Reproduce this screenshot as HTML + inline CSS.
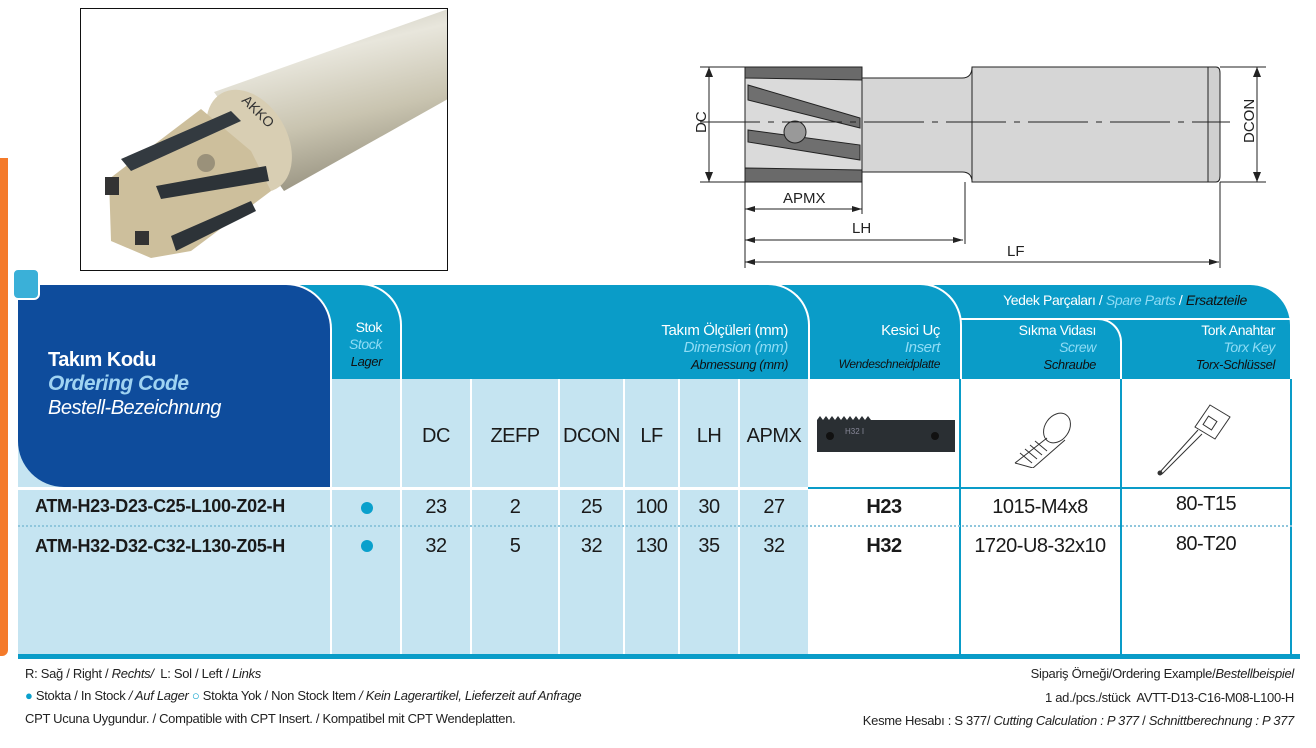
<!DOCTYPE html>
<html><head><meta charset="utf-8"><style>
*{margin:0;padding:0;box-sizing:border-box}
body{width:1316px;height:748px;background:#fff;position:relative;overflow:hidden;font-family:"Liberation Sans",sans-serif;color:#1a1a1a}
.a{position:absolute}
.hb{position:absolute;background:#0a9cc8;border-top-right-radius:42px;border-right:2px solid #fff;border-top:2px solid #fff}
.r{text-align:right;line-height:17px;font-size:14px;letter-spacing:-0.4px}
.w{color:#fff}.c{color:#8fdcf5;font-style:italic}.k{color:#111;font-style:italic;font-size:13px}
.row{position:absolute;font-size:20px;letter-spacing:-0.5px;text-align:center}
.f{position:absolute;font-size:13px;letter-spacing:-0.3px;color:#222}
</style></head><body>
<div class="a" style="left:0;top:158px;width:8px;height:498px;background:#f47a2a;border-radius:0 0 6px 0"></div>

<div class="a" style="left:80px;top:8px;width:368px;height:263px;border:1px solid #111;overflow:hidden">
<svg width="368" height="263" viewBox="80 8 368 263">
<defs><linearGradient id="g" x1="0" y1="0" x2="0.3" y2="1"><stop offset="0" stop-color="#b9b6a6"/><stop offset="0.35" stop-color="#e8e6dc"/><stop offset="0.7" stop-color="#c9c4b0"/><stop offset="1" stop-color="#9d9886"/></linearGradient></defs>
<polygon points="213,91 447,8 447,98 283,190" fill="url(#g)"/>
<ellipse cx="248" cy="140" rx="38" ry="55" transform="rotate(-30 248 140)" fill="#d8ceb3"/>
<polygon points="108,178 200,108 250,150 270,190 190,250 150,257 110,240" fill="#cdbf9c"/>
<polygon points="120,158 230,110 240,120 130,170" fill="#333a40"/>
<polygon points="155,185 265,165 268,180 160,198" fill="#2d3338"/>
<polygon points="170,235 250,200 255,210 175,250" fill="#2d3338"/>
<rect x="104" y="176" width="14" height="18" fill="#333"/>
<rect x="134" y="230" width="14" height="14" fill="#333"/>
<circle cx="205" cy="162" r="9" fill="#9a917a"/>
<text x="240" y="100" font-size="14" fill="#333" transform="rotate(45 240 100)">AKKO</text>
</svg></div>

<!-- technical drawing -->
<svg class="a" style="left:0;top:0" width="1316" height="280">
<g stroke="#222" fill="none" stroke-width="1">
<rect x="972" y="67" width="236" height="115" fill="#d6d6d6"/>
<path d="M1208 67 h8 q4 0 4 6 v103 q0 6 -4 6 h-8z" fill="#d0d0d0"/>
<path d="M862 78 h100 q10 0 10 -11 v115 q0 -10 -10 -10 h-100z" fill="#d6d6d6"/>
<polygon points="745,67 862,67 862,182 745,182" fill="#dadada"/>
<polygon points="745,67 862,67 862,80 745,78" fill="#6a6a6a"/>
<polygon points="748,85 860,118 860,128 748,100" fill="#6f6f6f"/>
<polygon points="748,130 860,145 860,160 748,142" fill="#6f6f6f"/>
<polygon points="745,168 862,170 862,182 745,182" fill="#6a6a6a"/>
<circle cx="795" cy="132" r="11" fill="#999"/>
<line x1="700" y1="122" x2="1230" y2="122" stroke-dasharray="60,8,6,8"/>
<line x1="709" y1="67" x2="709" y2="182"/>
<line x1="700" y1="67" x2="745" y2="67"/><line x1="700" y1="182" x2="745" y2="182"/>
<line x1="1257" y1="67" x2="1257" y2="182"/>
<line x1="1220" y1="67" x2="1266" y2="67"/><line x1="1220" y1="182" x2="1266" y2="182"/>
<line x1="745" y1="182" x2="745" y2="268"/>
<line x1="862" y1="182" x2="862" y2="214"/>
<line x1="965" y1="182" x2="965" y2="244"/>
<line x1="1220" y1="182" x2="1220" y2="268"/>
<line x1="745" y1="209" x2="862" y2="209"/>
<line x1="745" y1="240" x2="963" y2="240"/>
<line x1="745" y1="262" x2="1219" y2="262"/>
</g>
<g fill="#222">
<path d="M709 67 l-4 10 h8z"/><path d="M709 182 l-4 -10 h8z"/>
<path d="M1257 67 l-4 10 h8z"/><path d="M1257 182 l-4 -10 h8z"/>
<path d="M745 209 l10 -3 v6z"/><path d="M862 209 l-10 -3 v6z"/>
<path d="M745 240 l10 -3 v6z"/><path d="M963 240 l-10 -3 v6z"/>
<path d="M745 262 l10 -3 v6z"/><path d="M1219 262 l-10 -3 v6z"/>
</g>
<g font-size="15" fill="#222" font-family="Liberation Sans">
<text x="783" y="203">APMX</text><text x="852" y="233">LH</text><text x="1007" y="256">LF</text>
<text transform="translate(706 133) rotate(-90)">DC</text>
<text transform="translate(1254 143) rotate(-90)">DCON</text>
</g></svg>

<!-- headers -->
<div class="hb" style="left:930px;top:283px;width:362px;height:96px"></div>
<div class="hb" style="left:760px;top:283px;width:202px;height:96px"></div>
<div class="hb" style="left:370px;top:283px;width:440px;height:96px"></div>
<div class="hb" style="left:290px;top:283px;width:112px;height:96px"></div>
<div class="a" style="left:960px;top:318px;width:330px;height:2px;background:#fff"></div>
<div class="a" style="left:960px;top:318px;width:162px;height:61px;border-top:2px solid #fff;border-right:2px solid #fff;border-top-right-radius:24px"></div>
<div class="a w" style="left:960px;top:292px;width:330px;text-align:center;font-size:14px;letter-spacing:-0.4px">Yedek Parçaları / <span class="c">Spare Parts</span> / <i style="color:#111">Ersatzteile</i></div>
<div class="a r" style="left:330px;top:319px;width:52px"><div class="w">Stok</div><div class="c">Stock</div><div class="k">Lager</div></div>
<div class="a r" style="left:500px;top:322px;width:288px;font-size:15px"><div class="w">Takım Ölçüleri (mm)</div><div class="c">Dimension (mm)</div><div class="k">Abmessung (mm)</div></div>
<div class="a r" style="left:800px;top:322px;width:140px;font-size:15px"><div class="w">Kesici Uç</div><div class="c">Insert</div><div class="k" style="font-size:12px">Wendeschneidplatte</div></div>
<div class="a r" style="left:960px;top:322px;width:136px"><div class="w">Sıkma Vidası</div><div class="c">Screw</div><div class="k">Schraube</div></div>
<div class="a r" style="left:1120px;top:322px;width:155px"><div class="w">Tork Anahtar</div><div class="c">Torx Key</div><div class="k">Torx-Schlüssel</div></div>

<!-- body backgrounds -->
<div class="a" style="left:18px;top:379px;width:790px;height:276px;background:#c5e4f1"></div>
<div class="a" style="left:808px;top:379px;width:484px;height:276px;background:#fff;border-right:2px solid #0a9cc8"></div>
<div class="a" style="left:808px;top:487px;width:484px;height:2px;background:#0a9cc8"></div>
<div class="a" style="left:959px;top:379px;width:2px;height:276px;background:#0a9cc8"></div>
<div class="a" style="left:1120px;top:379px;width:2px;height:276px;background:#0a9cc8"></div>
<div class="a" style="left:18px;top:654px;width:1282px;height:5px;background:#0a9cc8"></div>
<div class="a" style="left:330px;top:379px;width:2px;height:275px;background:#fff"></div>
<div class="a" style="left:400px;top:379px;width:2px;height:275px;background:#fff"></div>
<div class="a" style="left:470px;top:379px;width:2px;height:275px;background:#fff"></div>
<div class="a" style="left:558px;top:379px;width:2px;height:275px;background:#fff"></div>
<div class="a" style="left:623px;top:379px;width:2px;height:275px;background:#fff"></div>
<div class="a" style="left:678px;top:379px;width:2px;height:275px;background:#fff"></div>
<div class="a" style="left:738px;top:379px;width:2px;height:275px;background:#fff"></div>
<div class="a" style="left:18px;top:487px;width:790px;height:3px;background:#fff"></div>
<div class="a" style="left:18px;top:525px;width:1274px;border-top:2px dotted #8fc6dc"></div>

<!-- blue box -->
<div class="a" style="left:18px;top:283px;width:314px;height:204px;background:#0e4c9c;border-top-right-radius:46px;border-bottom-left-radius:46px;border-right:2px solid #fff;border-top:2px solid #fff"></div>
<div class="a" style="left:12px;top:268px;width:28px;height:32px;background:#3ab0d8;border:2px solid #fff;border-radius:6px"></div>
<div class="a" style="left:48px;top:348px;line-height:24px;letter-spacing:-0.5px">
<div style="color:#fff;font-weight:bold;font-size:20px">Takım Kodu</div>
<div style="color:#9fd3f2;font-weight:bold;font-style:italic;font-size:21px">Ordering Code</div>
<div style="color:#fff;font-style:italic;font-size:20px">Bestell-Bezeichnung</div></div>

<div class="row" style="left:402px;top:425px;width:68px">DC</div>
<div class="row" style="left:472px;top:425px;width:86px">ZEFP</div>
<div class="row" style="left:560px;top:425px;width:63px">DCON</div>
<div class="row" style="left:625px;top:425px;width:53px">LF</div>
<div class="row" style="left:680px;top:425px;width:58px">LH</div>
<div class="row" style="left:740px;top:425px;width:68px">APMX</div>

<svg class="a" style="left:815px;top:408px" width="140" height="50"><polygon points="2,12 5,8 8,12 11,8 14,12 17,8 20,12 23,8 26,12 29,8 32,12 35,8 38,12 41,8 44,12 47,8 50,12 53,8 56,12 140,12 140,44 2,44" fill="#2a2f33"/><circle cx="15" cy="28" r="4" fill="#111"/><circle cx="120" cy="28" r="4" fill="#111"/><text x="30" y="26" font-size="8" fill="#889">H32 I</text></svg>
<svg class="a" style="left:995px;top:408px" width="90" height="60" fill="none" stroke="#333"><ellipse cx="62" cy="20" rx="12" ry="16" transform="rotate(35 62 20)" fill="#fff"/><path d="M52 30 L20 55 M70 32 L38 60 M20 55 L38 60"/><path d="M25 45 l12 10 M30 41 l12 10 M35 37 l12 10 M40 33 l12 10"/></svg>
<svg class="a" style="left:1150px;top:400px" width="90" height="80" fill="none" stroke="#333"><path d="M60 5 l20 12 l-15 22 l-20 -12z" fill="#fff"/><rect x="55" y="18" width="10" height="10" transform="rotate(33 60 23)"/><path d="M48 30 L10 72 M52 34 L12 74"/><circle cx="10" cy="73" r="2" fill="#333"/></svg>

<div class="a" style="left:35px;top:496px;font-weight:bold;font-size:18px;letter-spacing:-0.3px">ATM-H23-D23-C25-L100-Z02-H</div>
<div class="a" style="left:35px;top:536px;font-weight:bold;font-size:18px;letter-spacing:-0.3px">ATM-H32-D32-C32-L130-Z05-H</div>
<div class="a" style="left:361px;top:502px;width:12px;height:12px;border-radius:50%;background:#0aa0cc"></div>
<div class="a" style="left:361px;top:540px;width:12px;height:12px;border-radius:50%;background:#0aa0cc"></div>
<div class="row" style="left:402px;top:496px;width:68px">23</div><div class="row" style="left:472px;top:496px;width:86px">2</div><div class="row" style="left:560px;top:496px;width:63px">25</div><div class="row" style="left:625px;top:496px;width:53px">100</div><div class="row" style="left:680px;top:496px;width:58px">30</div><div class="row" style="left:740px;top:496px;width:68px">27</div>
<div class="row" style="left:402px;top:535px;width:68px">32</div><div class="row" style="left:472px;top:535px;width:86px">5</div><div class="row" style="left:560px;top:535px;width:63px">32</div><div class="row" style="left:625px;top:535px;width:53px">130</div><div class="row" style="left:680px;top:535px;width:58px">35</div><div class="row" style="left:740px;top:535px;width:68px">32</div>
<div class="row" style="left:808px;top:496px;width:152px;font-weight:bold">H23</div>
<div class="row" style="left:808px;top:535px;width:152px;font-weight:bold">H32</div>
<div class="row" style="left:960px;top:496px;width:160px">1015-M4x8</div>
<div class="row" style="left:960px;top:535px;width:160px">1720-U8-32x10</div>
<div class="row" style="left:1122px;top:493px;width:168px">80-T15</div>
<div class="row" style="left:1122px;top:533px;width:168px">80-T20</div>

<div class="f" style="left:25px;top:666px">R: Sağ / Right / <i>Rechts/</i>&nbsp; L: Sol / Left / <i>Links</i></div>
<div class="f" style="left:25px;top:688px"><span style="color:#0aa0cc">●</span> Stokta / In Stock <i>/ Auf Lager</i> <span style="color:#0aa0cc">○</span> Stokta Yok / Non Stock Item <i>/ Kein Lagerartikel, Lieferzeit auf Anfrage</i></div>
<div class="f" style="left:25px;top:711px">CPT Ucuna Uygundur. / Compatible with CPT Insert. / Kompatibel mit CPT Wendeplatten.</div>
<div class="f" style="right:22px;top:666px">Sipariş Örneği/Ordering Example/<i>Bestellbeispiel</i></div>
<div class="f" style="right:22px;top:690px">1 ad./pcs./stück&nbsp; AVTT-D13-C16-M08-L100-H</div>
<div class="f" style="right:22px;top:713px">Kesme Hesabı : S 377/ <i>Cutting Calculation : P 377</i> / <i>Schnittberechnung : P 377</i></div>
</body></html>
